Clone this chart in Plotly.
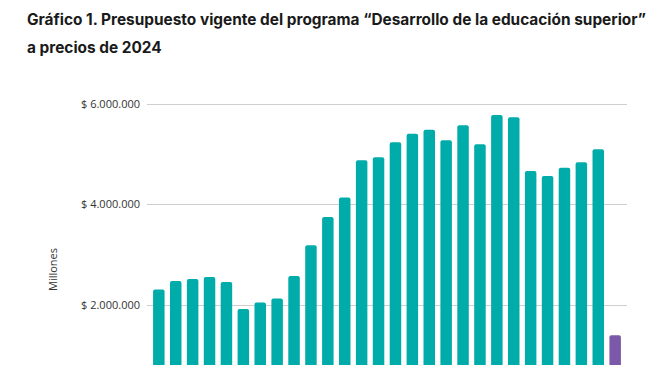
import plotly.graph_objects as go

years = list(range(1997, 2025))
values = [2.31e6, 2.48e6, 2.52e6, 2.56e6, 2.46e6, 1.92e6, 2.05e6, 2.13e6, 2.58e6, 3.19e6,
          3.75e6, 4.14e6, 4.88e6, 4.94e6, 5.24e6, 5.41e6, 5.49e6, 5.28e6, 5.58e6, 5.20e6,
          5.78e6, 5.74e6, 4.67e6, 4.57e6, 4.73e6, 4.84e6, 5.10e6, 1.40e6]
tick_vals = [2e6, 4e6, 6e6]
tick_text = ["$ 2.000.000", "$ 4.000.000", "$ 6.000.000"]
title_line1 = "Gráfico 1. Presupuesto vigente del programa “Desarrollo de la educación superior”"
title_line2 = "a precios de 2024"
y_title = "Millones"

colors = ["#00ACA9"] * (len(years) - 1) + ["#7B59A8"]

fig = go.Figure(go.Bar(x=years, y=values, marker=dict(color=colors, cornerradius=2,
                                                      line=dict(width=0)), width=0.68))

title_font = dict(family="Inter", size=15.4, color="#1A1A1A")
fig.update_layout(
    width=660, height=365,
    margin=dict(l=147, r=33, t=90, b=0),
    paper_bgcolor="white", plot_bgcolor="white",
    showlegend=False,
    xaxis=dict(range=[1996.3, 2024.7], showticklabels=False, showgrid=False,
               zeroline=False, ticks=""),
    yaxis=dict(range=[0.806e6, 6.28e6], tickvals=tick_vals, ticktext=tick_text,
               showgrid=True, gridcolor="#CFCFCF", gridwidth=1.3, zeroline=False,
               ticks="", ticklabelstandoff=6,
               tickfont=dict(family="Open Sans", size=11, color="#333333")),
    annotations=[
        dict(text=f"<b>{title_line1}</b>", xref="paper", yref="paper",
             x=(25 - 147) / 480, y=(365 - 20) / 275, xanchor="left", yanchor="middle",
             showarrow=False, font=title_font),
        dict(text=f"<b>{title_line2}</b>", xref="paper", yref="paper",
             x=(25 - 147) / 480, y=(365 - 47) / 275, xanchor="left", yanchor="middle",
             showarrow=False, font=title_font),
        dict(text=y_title, xref="paper", yref="paper", textangle=-90,
             x=(52 - 147) / 480, y=(365 - 270) / 275, xanchor="center", yanchor="middle",
             showarrow=False, font=dict(family="Open Sans", size=11, color="#333333")),
    ],
)

fig.write_html("out.html", config={"displayModeBar": False},
               post_script="document.body.style.margin='0';")
